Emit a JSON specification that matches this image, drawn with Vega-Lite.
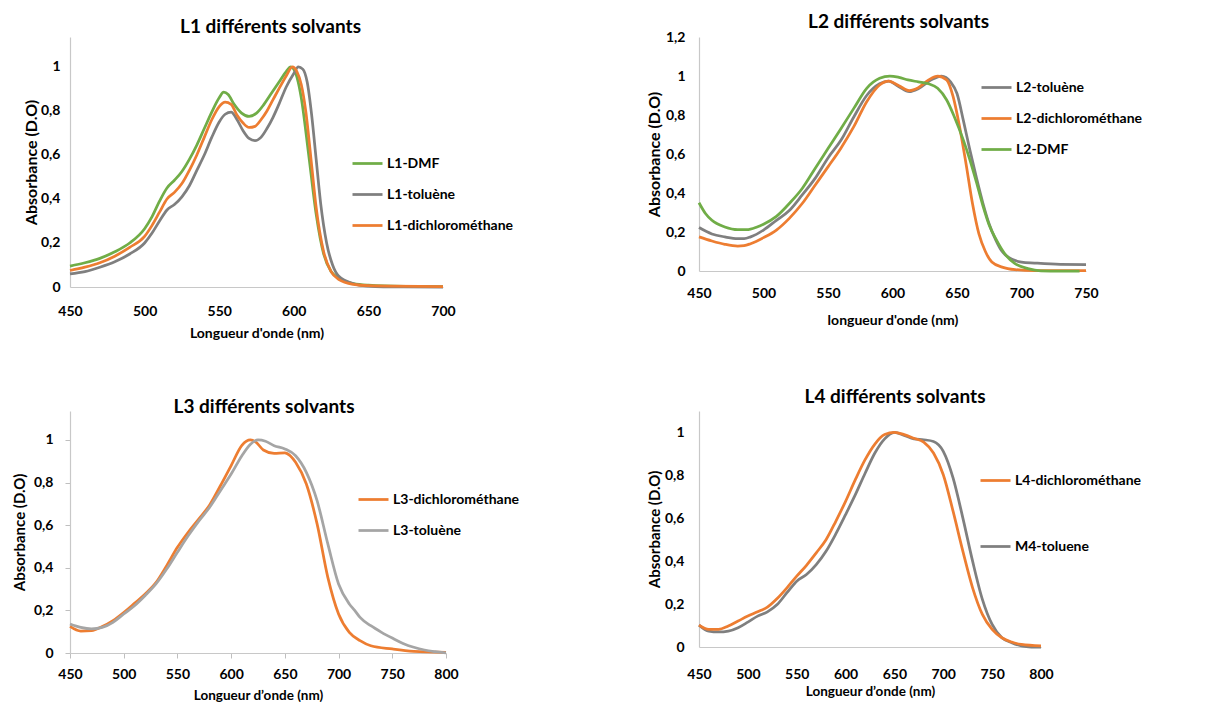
{
  "$schema": "https://vega.github.io/schema/vega-lite/v6.json",
  "background": "white",
  "padding": {"left": 12, "top": 13, "right": 5, "bottom": 5},
  "config": {
    "font": "Lato",
    "view": {"stroke": null},
    "axis": {"labelFont": "Lato", "labelFontWeight": "bold", "labelFontSize": 14, "labelColor": "#000000", "titleFont": "Lato", "titleFontWeight": "bold", "titleFontSize": 14, "titleColor": "#000000", "domainColor": "#C8C8C8", "domainWidth": 1.2, "ticks": false, "grid": false, "labelFlush": false, "labelOverlap": false},
    "legend": {"labelFont": "Lato", "labelFontWeight": "bold", "labelFontSize": 14, "labelColor": "#000000", "symbolType": "stroke", "symbolSize": 900, "symbolStrokeWidth": 2.75, "labelOffset": 3, "padding": 0, "orient": "none", "rowPadding": 7},
    "title": {"font": "Lato", "fontWeight": "bold", "fontSize": 19, "color": "#000000"},
    "line": {"strokeWidth": 2.75, "interpolate": "monotone"}
  },
  "datasets": {
    "l1": [
      {"nm":450,"A":0.095,"s":"L1-DMF"},{"nm":460,"A":0.11,"s":"L1-DMF"},{"nm":470,"A":0.13,"s":"L1-DMF"},{"nm":480,"A":0.16,"s":"L1-DMF"},{"nm":490,"A":0.2,"s":"L1-DMF"},{"nm":500,"A":0.265,"s":"L1-DMF"},{"nm":505,"A":0.32,"s":"L1-DMF"},{"nm":510,"A":0.39,"s":"L1-DMF"},{"nm":515,"A":0.45,"s":"L1-DMF"},{"nm":520,"A":0.485,"s":"L1-DMF"},{"nm":525,"A":0.525,"s":"L1-DMF"},{"nm":530,"A":0.58,"s":"L1-DMF"},{"nm":535,"A":0.645,"s":"L1-DMF"},{"nm":540,"A":0.72,"s":"L1-DMF"},{"nm":545,"A":0.795,"s":"L1-DMF"},{"nm":550,"A":0.86,"s":"L1-DMF"},{"nm":553,"A":0.885,"s":"L1-DMF"},{"nm":556,"A":0.875,"s":"L1-DMF"},{"nm":560,"A":0.83,"s":"L1-DMF"},{"nm":565,"A":0.79,"s":"L1-DMF"},{"nm":570,"A":0.775,"s":"L1-DMF"},{"nm":575,"A":0.79,"s":"L1-DMF"},{"nm":580,"A":0.83,"s":"L1-DMF"},{"nm":585,"A":0.88,"s":"L1-DMF"},{"nm":590,"A":0.93,"s":"L1-DMF"},{"nm":595,"A":0.98,"s":"L1-DMF"},{"nm":598,"A":1.0,"s":"L1-DMF"},{"nm":600,"A":0.99,"s":"L1-DMF"},{"nm":603,"A":0.93,"s":"L1-DMF"},{"nm":605,"A":0.86,"s":"L1-DMF"},{"nm":610,"A":0.6,"s":"L1-DMF"},{"nm":615,"A":0.33,"s":"L1-DMF"},{"nm":620,"A":0.15,"s":"L1-DMF"},{"nm":625,"A":0.07,"s":"L1-DMF"},{"nm":630,"A":0.04,"s":"L1-DMF"},{"nm":640,"A":0.015,"s":"L1-DMF"},{"nm":650,"A":0.008,"s":"L1-DMF"},{"nm":675,"A":0.003,"s":"L1-DMF"},{"nm":700,"A":0.002,"s":"L1-DMF"},
      {"nm":450,"A":0.06,"s":"L1-toluène"},{"nm":460,"A":0.07,"s":"L1-toluène"},{"nm":470,"A":0.09,"s":"L1-toluène"},{"nm":480,"A":0.115,"s":"L1-toluène"},{"nm":490,"A":0.15,"s":"L1-toluène"},{"nm":500,"A":0.2,"s":"L1-toluène"},{"nm":505,"A":0.245,"s":"L1-toluène"},{"nm":510,"A":0.3,"s":"L1-toluène"},{"nm":515,"A":0.35,"s":"L1-toluène"},{"nm":520,"A":0.375,"s":"L1-toluène"},{"nm":525,"A":0.41,"s":"L1-toluène"},{"nm":530,"A":0.46,"s":"L1-toluène"},{"nm":535,"A":0.53,"s":"L1-toluène"},{"nm":540,"A":0.6,"s":"L1-toluène"},{"nm":545,"A":0.68,"s":"L1-toluène"},{"nm":550,"A":0.75,"s":"L1-toluène"},{"nm":554,"A":0.785,"s":"L1-toluène"},{"nm":558,"A":0.795,"s":"L1-toluène"},{"nm":562,"A":0.76,"s":"L1-toluène"},{"nm":566,"A":0.71,"s":"L1-toluène"},{"nm":570,"A":0.675,"s":"L1-toluène"},{"nm":574,"A":0.665,"s":"L1-toluène"},{"nm":578,"A":0.68,"s":"L1-toluène"},{"nm":582,"A":0.72,"s":"L1-toluène"},{"nm":586,"A":0.77,"s":"L1-toluène"},{"nm":590,"A":0.83,"s":"L1-toluène"},{"nm":595,"A":0.91,"s":"L1-toluène"},{"nm":600,"A":0.97,"s":"L1-toluène"},{"nm":603,"A":1.0,"s":"L1-toluène"},{"nm":606,"A":0.99,"s":"L1-toluène"},{"nm":609,"A":0.93,"s":"L1-toluène"},{"nm":612,"A":0.78,"s":"L1-toluène"},{"nm":615,"A":0.58,"s":"L1-toluène"},{"nm":618,"A":0.38,"s":"L1-toluène"},{"nm":622,"A":0.2,"s":"L1-toluène"},{"nm":626,"A":0.1,"s":"L1-toluène"},{"nm":630,"A":0.05,"s":"L1-toluène"},{"nm":640,"A":0.015,"s":"L1-toluène"},{"nm":650,"A":0.004,"s":"L1-toluène"},{"nm":660,"A":0.001,"s":"L1-toluène"},{"nm":700,"A":0.0,"s":"L1-toluène"},
      {"nm":450,"A":0.075,"s":"L1-dichlorométhane"},{"nm":460,"A":0.09,"s":"L1-dichlorométhane"},{"nm":470,"A":0.11,"s":"L1-dichlorométhane"},{"nm":480,"A":0.14,"s":"L1-dichlorométhane"},{"nm":490,"A":0.18,"s":"L1-dichlorométhane"},{"nm":500,"A":0.23,"s":"L1-dichlorométhane"},{"nm":505,"A":0.28,"s":"L1-dichlorométhane"},{"nm":510,"A":0.34,"s":"L1-dichlorométhane"},{"nm":515,"A":0.4,"s":"L1-dichlorométhane"},{"nm":520,"A":0.43,"s":"L1-dichlorométhane"},{"nm":525,"A":0.47,"s":"L1-dichlorométhane"},{"nm":530,"A":0.53,"s":"L1-dichlorométhane"},{"nm":535,"A":0.6,"s":"L1-dichlorométhane"},{"nm":540,"A":0.68,"s":"L1-dichlorométhane"},{"nm":545,"A":0.76,"s":"L1-dichlorométhane"},{"nm":550,"A":0.82,"s":"L1-dichlorométhane"},{"nm":554,"A":0.84,"s":"L1-dichlorométhane"},{"nm":558,"A":0.83,"s":"L1-dichlorométhane"},{"nm":562,"A":0.78,"s":"L1-dichlorométhane"},{"nm":566,"A":0.745,"s":"L1-dichlorométhane"},{"nm":570,"A":0.725,"s":"L1-dichlorométhane"},{"nm":574,"A":0.73,"s":"L1-dichlorométhane"},{"nm":578,"A":0.76,"s":"L1-dichlorométhane"},{"nm":582,"A":0.8,"s":"L1-dichlorométhane"},{"nm":586,"A":0.85,"s":"L1-dichlorométhane"},{"nm":590,"A":0.9,"s":"L1-dichlorométhane"},{"nm":595,"A":0.96,"s":"L1-dichlorométhane"},{"nm":599,"A":1.0,"s":"L1-dichlorométhane"},{"nm":602,"A":0.98,"s":"L1-dichlorométhane"},{"nm":605,"A":0.92,"s":"L1-dichlorométhane"},{"nm":608,"A":0.8,"s":"L1-dichlorométhane"},{"nm":612,"A":0.55,"s":"L1-dichlorométhane"},{"nm":615,"A":0.36,"s":"L1-dichlorométhane"},{"nm":620,"A":0.16,"s":"L1-dichlorométhane"},{"nm":625,"A":0.07,"s":"L1-dichlorométhane"},{"nm":630,"A":0.035,"s":"L1-dichlorométhane"},{"nm":640,"A":0.012,"s":"L1-dichlorométhane"},{"nm":650,"A":0.006,"s":"L1-dichlorométhane"},{"nm":700,"A":0.002,"s":"L1-dichlorométhane"}
    ],
    "l2": [
      {"nm":450,"A":0.223,"s":"L2-toluène"},{"nm":460,"A":0.19,"s":"L2-toluène"},{"nm":470,"A":0.175,"s":"L2-toluène"},{"nm":480,"A":0.166,"s":"L2-toluène"},{"nm":485,"A":0.166,"s":"L2-toluène"},{"nm":490,"A":0.175,"s":"L2-toluène"},{"nm":500,"A":0.21,"s":"L2-toluène"},{"nm":510,"A":0.26,"s":"L2-toluène"},{"nm":520,"A":0.31,"s":"L2-toluène"},{"nm":530,"A":0.39,"s":"L2-toluène"},{"nm":540,"A":0.475,"s":"L2-toluène"},{"nm":550,"A":0.58,"s":"L2-toluène"},{"nm":560,"A":0.67,"s":"L2-toluène"},{"nm":570,"A":0.79,"s":"L2-toluène"},{"nm":580,"A":0.9,"s":"L2-toluène"},{"nm":590,"A":0.96,"s":"L2-toluène"},{"nm":597,"A":0.974,"s":"L2-toluène"},{"nm":605,"A":0.945,"s":"L2-toluène"},{"nm":613,"A":0.92,"s":"L2-toluène"},{"nm":620,"A":0.935,"s":"L2-toluène"},{"nm":630,"A":0.98,"s":"L2-toluène"},{"nm":638,"A":1.0,"s":"L2-toluène"},{"nm":645,"A":0.97,"s":"L2-toluène"},{"nm":650,"A":0.91,"s":"L2-toluène"},{"nm":655,"A":0.77,"s":"L2-toluène"},{"nm":660,"A":0.62,"s":"L2-toluène"},{"nm":665,"A":0.48,"s":"L2-toluène"},{"nm":670,"A":0.35,"s":"L2-toluène"},{"nm":675,"A":0.24,"s":"L2-toluène"},{"nm":680,"A":0.16,"s":"L2-toluène"},{"nm":685,"A":0.1,"s":"L2-toluène"},{"nm":690,"A":0.07,"s":"L2-toluène"},{"nm":700,"A":0.046,"s":"L2-toluène"},{"nm":710,"A":0.041,"s":"L2-toluène"},{"nm":730,"A":0.034,"s":"L2-toluène"},{"nm":750,"A":0.033,"s":"L2-toluène"},
      {"nm":450,"A":0.175,"s":"L2-dichlorométhane"},{"nm":460,"A":0.154,"s":"L2-dichlorométhane"},{"nm":470,"A":0.137,"s":"L2-dichlorométhane"},{"nm":480,"A":0.128,"s":"L2-dichlorométhane"},{"nm":485,"A":0.13,"s":"L2-dichlorométhane"},{"nm":490,"A":0.14,"s":"L2-dichlorométhane"},{"nm":500,"A":0.171,"s":"L2-dichlorométhane"},{"nm":510,"A":0.21,"s":"L2-dichlorométhane"},{"nm":520,"A":0.27,"s":"L2-dichlorométhane"},{"nm":530,"A":0.346,"s":"L2-dichlorométhane"},{"nm":540,"A":0.44,"s":"L2-dichlorométhane"},{"nm":550,"A":0.534,"s":"L2-dichlorométhane"},{"nm":560,"A":0.63,"s":"L2-dichlorométhane"},{"nm":570,"A":0.74,"s":"L2-dichlorométhane"},{"nm":580,"A":0.868,"s":"L2-dichlorométhane"},{"nm":590,"A":0.954,"s":"L2-dichlorométhane"},{"nm":597,"A":0.974,"s":"L2-dichlorométhane"},{"nm":605,"A":0.95,"s":"L2-dichlorométhane"},{"nm":613,"A":0.925,"s":"L2-dichlorométhane"},{"nm":620,"A":0.94,"s":"L2-dichlorométhane"},{"nm":628,"A":0.98,"s":"L2-dichlorométhane"},{"nm":635,"A":1.0,"s":"L2-dichlorométhane"},{"nm":642,"A":0.98,"s":"L2-dichlorométhane"},{"nm":647,"A":0.894,"s":"L2-dichlorométhane"},{"nm":652,"A":0.74,"s":"L2-dichlorométhane"},{"nm":657,"A":0.55,"s":"L2-dichlorométhane"},{"nm":662,"A":0.346,"s":"L2-dichlorométhane"},{"nm":667,"A":0.19,"s":"L2-dichlorométhane"},{"nm":672,"A":0.1,"s":"L2-dichlorométhane"},{"nm":677,"A":0.046,"s":"L2-dichlorométhane"},{"nm":685,"A":0.02,"s":"L2-dichlorométhane"},{"nm":695,"A":0.007,"s":"L2-dichlorométhane"},{"nm":710,"A":0.002,"s":"L2-dichlorométhane"},{"nm":750,"A":0.002,"s":"L2-dichlorométhane"},
      {"nm":450,"A":0.35,"s":"L2-DMF"},{"nm":455,"A":0.295,"s":"L2-DMF"},{"nm":460,"A":0.26,"s":"L2-DMF"},{"nm":470,"A":0.226,"s":"L2-DMF"},{"nm":480,"A":0.212,"s":"L2-DMF"},{"nm":487,"A":0.212,"s":"L2-DMF"},{"nm":495,"A":0.226,"s":"L2-DMF"},{"nm":500,"A":0.24,"s":"L2-DMF"},{"nm":510,"A":0.28,"s":"L2-DMF"},{"nm":520,"A":0.346,"s":"L2-DMF"},{"nm":530,"A":0.423,"s":"L2-DMF"},{"nm":540,"A":0.526,"s":"L2-DMF"},{"nm":550,"A":0.628,"s":"L2-DMF"},{"nm":560,"A":0.73,"s":"L2-DMF"},{"nm":570,"A":0.834,"s":"L2-DMF"},{"nm":580,"A":0.937,"s":"L2-DMF"},{"nm":590,"A":0.988,"s":"L2-DMF"},{"nm":598,"A":1.0,"s":"L2-DMF"},{"nm":605,"A":0.993,"s":"L2-DMF"},{"nm":612,"A":0.98,"s":"L2-DMF"},{"nm":620,"A":0.97,"s":"L2-DMF"},{"nm":628,"A":0.96,"s":"L2-DMF"},{"nm":635,"A":0.937,"s":"L2-DMF"},{"nm":642,"A":0.877,"s":"L2-DMF"},{"nm":648,"A":0.79,"s":"L2-DMF"},{"nm":655,"A":0.67,"s":"L2-DMF"},{"nm":660,"A":0.57,"s":"L2-DMF"},{"nm":665,"A":0.457,"s":"L2-DMF"},{"nm":670,"A":0.337,"s":"L2-DMF"},{"nm":675,"A":0.235,"s":"L2-DMF"},{"nm":680,"A":0.166,"s":"L2-DMF"},{"nm":688,"A":0.08,"s":"L2-DMF"},{"nm":695,"A":0.038,"s":"L2-DMF"},{"nm":705,"A":0.012,"s":"L2-DMF"},{"nm":715,"A":0.001,"s":"L2-DMF"},{"nm":730,"A":0.0,"s":"L2-DMF"},{"nm":745,"A":0.0,"s":"L2-DMF"}
    ],
    "l3": [
      {"nm":450,"A":0.125,"s":"L3-dichlorométhane"},{"nm":460,"A":0.103,"s":"L3-dichlorométhane"},{"nm":470,"A":0.105,"s":"L3-dichlorométhane"},{"nm":480,"A":0.124,"s":"L3-dichlorométhane"},{"nm":490,"A":0.152,"s":"L3-dichlorométhane"},{"nm":500,"A":0.19,"s":"L3-dichlorométhane"},{"nm":510,"A":0.233,"s":"L3-dichlorométhane"},{"nm":520,"A":0.277,"s":"L3-dichlorométhane"},{"nm":530,"A":0.33,"s":"L3-dichlorométhane"},{"nm":540,"A":0.41,"s":"L3-dichlorométhane"},{"nm":550,"A":0.496,"s":"L3-dichlorométhane"},{"nm":560,"A":0.567,"s":"L3-dichlorométhane"},{"nm":570,"A":0.63,"s":"L3-dichlorométhane"},{"nm":580,"A":0.695,"s":"L3-dichlorométhane"},{"nm":590,"A":0.785,"s":"L3-dichlorométhane"},{"nm":600,"A":0.88,"s":"L3-dichlorométhane"},{"nm":610,"A":0.975,"s":"L3-dichlorométhane"},{"nm":618,"A":1.0,"s":"L3-dichlorométhane"},{"nm":623,"A":0.99,"s":"L3-dichlorométhane"},{"nm":630,"A":0.953,"s":"L3-dichlorométhane"},{"nm":640,"A":0.937,"s":"L3-dichlorométhane"},{"nm":650,"A":0.94,"s":"L3-dichlorométhane"},{"nm":655,"A":0.926,"s":"L3-dichlorométhane"},{"nm":660,"A":0.895,"s":"L3-dichlorométhane"},{"nm":670,"A":0.793,"s":"L3-dichlorométhane"},{"nm":680,"A":0.606,"s":"L3-dichlorométhane"},{"nm":690,"A":0.355,"s":"L3-dichlorométhane"},{"nm":700,"A":0.183,"s":"L3-dichlorométhane"},{"nm":710,"A":0.097,"s":"L3-dichlorométhane"},{"nm":720,"A":0.058,"s":"L3-dichlorométhane"},{"nm":730,"A":0.034,"s":"L3-dichlorométhane"},{"nm":750,"A":0.019,"s":"L3-dichlorométhane"},{"nm":770,"A":0.008,"s":"L3-dichlorométhane"},{"nm":800,"A":0.003,"s":"L3-dichlorométhane"},
      {"nm":450,"A":0.136,"s":"L3-toluène"},{"nm":460,"A":0.12,"s":"L3-toluène"},{"nm":470,"A":0.113,"s":"L3-toluène"},{"nm":480,"A":0.12,"s":"L3-toluène"},{"nm":490,"A":0.144,"s":"L3-toluène"},{"nm":500,"A":0.183,"s":"L3-toluène"},{"nm":510,"A":0.222,"s":"L3-toluène"},{"nm":520,"A":0.27,"s":"L3-toluène"},{"nm":530,"A":0.324,"s":"L3-toluène"},{"nm":540,"A":0.394,"s":"L3-toluène"},{"nm":550,"A":0.473,"s":"L3-toluène"},{"nm":560,"A":0.55,"s":"L3-toluène"},{"nm":570,"A":0.62,"s":"L3-toluène"},{"nm":580,"A":0.684,"s":"L3-toluène"},{"nm":590,"A":0.762,"s":"L3-toluène"},{"nm":600,"A":0.84,"s":"L3-toluène"},{"nm":610,"A":0.926,"s":"L3-toluène"},{"nm":618,"A":0.98,"s":"L3-toluène"},{"nm":625,"A":1.0,"s":"L3-toluène"},{"nm":632,"A":0.994,"s":"L3-toluène"},{"nm":640,"A":0.973,"s":"L3-toluène"},{"nm":650,"A":0.958,"s":"L3-toluène"},{"nm":660,"A":0.926,"s":"L3-toluène"},{"nm":670,"A":0.848,"s":"L3-toluène"},{"nm":680,"A":0.715,"s":"L3-toluène"},{"nm":690,"A":0.512,"s":"L3-toluène"},{"nm":700,"A":0.324,"s":"L3-toluène"},{"nm":710,"A":0.23,"s":"L3-toluène"},{"nm":715,"A":0.2,"s":"L3-toluène"},{"nm":720,"A":0.167,"s":"L3-toluène"},{"nm":730,"A":0.128,"s":"L3-toluène"},{"nm":740,"A":0.097,"s":"L3-toluène"},{"nm":750,"A":0.07,"s":"L3-toluène"},{"nm":760,"A":0.045,"s":"L3-toluène"},{"nm":770,"A":0.027,"s":"L3-toluène"},{"nm":780,"A":0.014,"s":"L3-toluène"},{"nm":790,"A":0.006,"s":"L3-toluène"},{"nm":800,"A":0.0,"s":"L3-toluène"}
    ],
    "l4": [
      {"nm":450,"A":0.102,"s":"M4-toluene"},{"nm":460,"A":0.074,"s":"M4-toluene"},{"nm":470,"A":0.07,"s":"M4-toluene"},{"nm":480,"A":0.074,"s":"M4-toluene"},{"nm":490,"A":0.09,"s":"M4-toluene"},{"nm":500,"A":0.116,"s":"M4-toluene"},{"nm":510,"A":0.144,"s":"M4-toluene"},{"nm":520,"A":0.164,"s":"M4-toluene"},{"nm":530,"A":0.198,"s":"M4-toluene"},{"nm":540,"A":0.253,"s":"M4-toluene"},{"nm":550,"A":0.307,"s":"M4-toluene"},{"nm":560,"A":0.338,"s":"M4-toluene"},{"nm":570,"A":0.384,"s":"M4-toluene"},{"nm":580,"A":0.446,"s":"M4-toluene"},{"nm":590,"A":0.527,"s":"M4-toluene"},{"nm":600,"A":0.617,"s":"M4-toluene"},{"nm":610,"A":0.71,"s":"M4-toluene"},{"nm":620,"A":0.81,"s":"M4-toluene"},{"nm":630,"A":0.904,"s":"M4-toluene"},{"nm":640,"A":0.97,"s":"M4-toluene"},{"nm":650,"A":1.0,"s":"M4-toluene"},{"nm":660,"A":0.986,"s":"M4-toluene"},{"nm":670,"A":0.97,"s":"M4-toluene"},{"nm":680,"A":0.966,"s":"M4-toluene"},{"nm":690,"A":0.958,"s":"M4-toluene"},{"nm":700,"A":0.912,"s":"M4-toluene"},{"nm":710,"A":0.788,"s":"M4-toluene"},{"nm":720,"A":0.602,"s":"M4-toluene"},{"nm":730,"A":0.4,"s":"M4-toluene"},{"nm":740,"A":0.222,"s":"M4-toluene"},{"nm":750,"A":0.105,"s":"M4-toluene"},{"nm":760,"A":0.043,"s":"M4-toluene"},{"nm":770,"A":0.02,"s":"M4-toluene"},{"nm":780,"A":0.005,"s":"M4-toluene"},{"nm":790,"A":0.0,"s":"M4-toluene"},{"nm":800,"A":0.0,"s":"M4-toluene"},
      {"nm":450,"A":0.102,"s":"L4-dichlorométhane"},{"nm":460,"A":0.082,"s":"L4-dichlorométhane"},{"nm":470,"A":0.082,"s":"L4-dichlorométhane"},{"nm":480,"A":0.098,"s":"L4-dichlorométhane"},{"nm":490,"A":0.121,"s":"L4-dichlorométhane"},{"nm":500,"A":0.144,"s":"L4-dichlorométhane"},{"nm":510,"A":0.164,"s":"L4-dichlorométhane"},{"nm":520,"A":0.186,"s":"L4-dichlorométhane"},{"nm":530,"A":0.226,"s":"L4-dichlorométhane"},{"nm":540,"A":0.276,"s":"L4-dichlorométhane"},{"nm":550,"A":0.33,"s":"L4-dichlorométhane"},{"nm":560,"A":0.381,"s":"L4-dichlorométhane"},{"nm":570,"A":0.439,"s":"L4-dichlorométhane"},{"nm":580,"A":0.5,"s":"L4-dichlorométhane"},{"nm":590,"A":0.586,"s":"L4-dichlorométhane"},{"nm":600,"A":0.679,"s":"L4-dichlorométhane"},{"nm":610,"A":0.78,"s":"L4-dichlorométhane"},{"nm":620,"A":0.873,"s":"L4-dichlorométhane"},{"nm":630,"A":0.946,"s":"L4-dichlorométhane"},{"nm":640,"A":0.99,"s":"L4-dichlorométhane"},{"nm":650,"A":1.0,"s":"L4-dichlorométhane"},{"nm":660,"A":0.99,"s":"L4-dichlorométhane"},{"nm":670,"A":0.973,"s":"L4-dichlorométhane"},{"nm":680,"A":0.955,"s":"L4-dichlorométhane"},{"nm":690,"A":0.904,"s":"L4-dichlorométhane"},{"nm":700,"A":0.803,"s":"L4-dichlorométhane"},{"nm":710,"A":0.633,"s":"L4-dichlorométhane"},{"nm":720,"A":0.447,"s":"L4-dichlorométhane"},{"nm":730,"A":0.276,"s":"L4-dichlorométhane"},{"nm":740,"A":0.152,"s":"L4-dichlorométhane"},{"nm":750,"A":0.082,"s":"L4-dichlorométhane"},{"nm":760,"A":0.043,"s":"L4-dichlorométhane"},{"nm":770,"A":0.023,"s":"L4-dichlorométhane"},{"nm":780,"A":0.012,"s":"L4-dichlorométhane"},{"nm":800,"A":0.005,"s":"L4-dichlorométhane"}
    ]
  },
  "vconcat": [
    {
      "spacing": 132,
      "hconcat": [
        {
          "width": 373, "height": 250,
          "title": {"text": "L1 différents solvants", "offset": 0, "dx": 14},
          "data": {"name": "l1"},
          "mark": {"type": "line"},
          "encoding": {
            "x": {"field": "nm", "type": "quantitative", "scale": {"domain": [450, 700], "nice": false}, "axis": {"values": [450, 500, 550, 600, 650, 700], "title": "Longueur d'onde (nm)", "labelPadding": 17, "titlePadding": 8}},
            "y": {"field": "A", "type": "quantitative", "scale": {"domain": [0, 1.136], "nice": false}, "axis": {"values": [0, 0.2, 0.4, 0.6, 0.8, 1], "title": "Absorbance (D.O)", "titleFontSize": 16, "labelPadding": 10, "titlePadding": 1, "labelExpr": "replace(format(datum.value, '~g'), '.', ',')"}},
            "color": {"field": "s", "type": "nominal", "scale": {"domain": ["L1-DMF", "L1-toluène", "L1-dichlorométhane"], "range": ["#70AD47", "#7F7F7F", "#ED7D31"]}, "legend": {"title": null, "legendX": 281, "legendY": 110}}
          }
        },
        {
          "width": 387, "height": 234,
          "title": {"text": "L2 différents solvants", "offset": -2, "dx": 6},
          "data": {"name": "l2"},
          "mark": {"type": "line"},
          "encoding": {
            "x": {"field": "nm", "type": "quantitative", "scale": {"domain": [450, 750], "nice": false}, "axis": {"values": [450, 500, 550, 600, 650, 700, 750], "title": "longueur d'onde (nm)", "labelPadding": 15, "titlePadding": 13}},
            "y": {"field": "A", "type": "quantitative", "scale": {"domain": [0, 1.2], "nice": false}, "axis": {"values": [0, 0.2, 0.4, 0.6, 0.8, 1, 1.2], "title": "Absorbance (D.O)", "titleFontSize": 16, "labelPadding": 14, "titlePadding": 3, "labelExpr": "replace(format(datum.value, '~g'), '.', ',')"}},
            "color": {"field": "s", "type": "nominal", "scale": {"domain": ["L2-toluène", "L2-dichlorométhane", "L2-DMF"], "range": ["#7F7F7F", "#ED7D31", "#70AD47"]}, "legend": {"title": null, "legendX": 281, "legendY": 34}}
          }
        }
      ],
      "resolve": {"scale": {"color": "independent", "x": "independent", "y": "independent"}, "legend": {"color": "independent"}}
    },
    {
      "spacing": 127,
      "hconcat": [
        {
          "width": 376, "height": 242,
          "title": {"text": "L3 différents solvants", "offset": -6, "dx": 6},
          "data": {"name": "l3"},
          "mark": {"type": "line"},
          "encoding": {
            "x": {"field": "nm", "type": "quantitative", "scale": {"domain": [450, 800], "nice": false}, "axis": {"values": [450, 500, 550, 600, 650, 700, 750, 800], "title": "Longueur d’onde (nm)", "titleFontSize": 13.5, "ticks": true, "tickSize": 5, "tickColor": "#BFBFBF", "labelPadding": 9, "titlePadding": 7}},
            "y": {"field": "A", "type": "quantitative", "scale": {"domain": [0, 1.136], "nice": false}, "axis": {"values": [0, 0.2, 0.4, 0.6, 0.8, 1], "title": "Absorbance (D.O)", "titleFontSize": 15, "ticks": true, "tickSize": 5, "tickColor": "#BFBFBF", "labelPadding": 12, "titlePadding": 6, "labelExpr": "replace(format(datum.value, '~g'), '.', ',')"}},
            "color": {"field": "s", "type": "nominal", "scale": {"domain": ["L3-dichlorométhane", "L3-toluène"], "range": ["#ED7D31", "#A5A5A5"]}, "legend": {"title": null, "legendX": 287, "legendY": 72}}
          }
        },
        {
          "width": 342, "height": 236,
          "title": {"text": "L4 différents solvants", "offset": 4, "dx": 25},
          "data": {"name": "l4"},
          "mark": {"type": "line"},
          "encoding": {
            "x": {"field": "nm", "type": "quantitative", "scale": {"domain": [450, 800], "nice": false}, "axis": {"values": [450, 500, 550, 600, 650, 700, 750, 800], "title": "Longueur d’onde (nm)", "titleFontSize": 13.5, "labelPadding": 20, "titlePadding": 3}},
            "y": {"field": "A", "type": "quantitative", "scale": {"domain": [0, 1.1], "nice": false}, "axis": {"values": [0, 0.2, 0.4, 0.6, 0.8, 1], "title": "Absorbance (D.O)", "titleFontSize": 15, "labelPadding": 15, "titlePadding": 2, "labelExpr": "replace(format(datum.value, '~g'), '.', ',')"}},
            "color": {"field": "s", "type": "nominal", "scale": {"domain": ["L4-dichlorométhane", "M4-toluene"], "range": ["#ED7D31", "#7F7F7F"]}, "legend": {"title": null, "legendX": 280, "legendY": 53, "rowPadding": 42}}
          }
        }
      ],
      "resolve": {"scale": {"color": "independent", "x": "independent", "y": "independent"}, "legend": {"color": "independent"}}
    }
  ],
  "spacing": 48,
  "resolve": {"scale": {"color": "independent", "x": "independent", "y": "independent"}, "legend": {"color": "independent"}}
}
